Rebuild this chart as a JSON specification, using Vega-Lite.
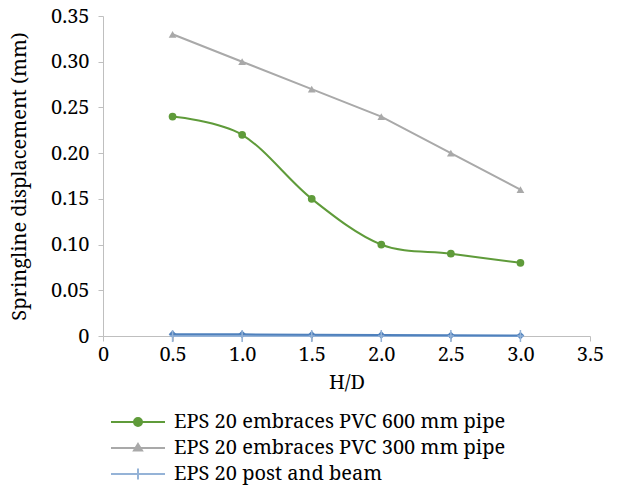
{
  "$schema": "https://vega.github.io/schema/vega-lite/v6.json",
  "autosize": "none",
  "width": 487,
  "height": 320,
  "padding": {"left": 103, "top": 16, "right": 43, "bottom": 152},
  "background": "white",
  "config": {
    "font": "Noto Serif, FreeSerif, Nimbus Roman, Times, Georgia, Liberation Sans",
    "view": {"stroke": null},
    "axis": {
      "domainColor": "#bfbfbf",
      "tickColor": "#bfbfbf",
      "grid": false,
      "labelFont": "Noto Serif, FreeSerif, Nimbus Roman, Times, Georgia, Liberation Sans",
      "titleFont": "Noto Serif, FreeSerif, Nimbus Roman, Times, Georgia, Liberation Sans",
      "labelFontSize": 20,
      "titleFontSize": 20,
      "labelColor": "#000000",
      "titleColor": "#000000",
      "titleFontWeight": "normal",
      "tickSize": 5
    }
  },
  "data": {
    "values": [
      {"hd": 0.5, "disp": 0.24, "series": "EPS 20 embraces PVC 600 mm pipe"},
      {"hd": 1.0, "disp": 0.22, "series": "EPS 20 embraces PVC 600 mm pipe"},
      {"hd": 1.5, "disp": 0.15, "series": "EPS 20 embraces PVC 600 mm pipe"},
      {"hd": 2.0, "disp": 0.10, "series": "EPS 20 embraces PVC 600 mm pipe"},
      {"hd": 2.5, "disp": 0.09, "series": "EPS 20 embraces PVC 600 mm pipe"},
      {"hd": 3.0, "disp": 0.08, "series": "EPS 20 embraces PVC 600 mm pipe"},
      {"hd": 0.5, "disp": 0.33, "series": "EPS 20 embraces PVC 300 mm pipe"},
      {"hd": 1.0, "disp": 0.30, "series": "EPS 20 embraces PVC 300 mm pipe"},
      {"hd": 1.5, "disp": 0.27, "series": "EPS 20 embraces PVC 300 mm pipe"},
      {"hd": 2.0, "disp": 0.24, "series": "EPS 20 embraces PVC 300 mm pipe"},
      {"hd": 2.5, "disp": 0.20, "series": "EPS 20 embraces PVC 300 mm pipe"},
      {"hd": 3.0, "disp": 0.16, "series": "EPS 20 embraces PVC 300 mm pipe"},
      {"hd": 0.5, "disp": 0.0, "series": "EPS 20 post and beam"},
      {"hd": 1.0, "disp": 0.0, "series": "EPS 20 post and beam"},
      {"hd": 1.5, "disp": 0.0, "series": "EPS 20 post and beam"},
      {"hd": 2.0, "disp": 0.0, "series": "EPS 20 post and beam"},
      {"hd": 2.5, "disp": 0.0, "series": "EPS 20 post and beam"},
      {"hd": 3.0, "disp": 0.0, "series": "EPS 20 post and beam"},
      {"hd": 0.5, "disp": 0.002, "series": "EPS 20 other"},
      {"hd": 1.0, "disp": 0.0018, "series": "EPS 20 other"},
      {"hd": 1.5, "disp": 0.0015, "series": "EPS 20 other"},
      {"hd": 2.0, "disp": 0.0012, "series": "EPS 20 other"},
      {"hd": 2.5, "disp": 0.0008, "series": "EPS 20 other"},
      {"hd": 3.0, "disp": 0.0005, "series": "EPS 20 other"}
    ]
  },
  "encoding": {
    "x": {
      "field": "hd", "type": "quantitative",
      "scale": {"domain": [0, 3.5], "nice": false, "zero": true},
      "axis": {
        "title": "H/D",
        "values": [0, 0.5, 1, 1.5, 2, 2.5, 3, 3.5],
        "labelExpr": "datum.value == 0 ? '0' : format(datum.value, '.1f')",
        "labelPadding": 3,
        "titlePadding": 8,
        "labelFlush": false
      }
    },
    "y": {
      "field": "disp", "type": "quantitative",
      "scale": {"domain": [0, 0.35], "nice": false},
      "axis": {
        "title": "Springline displacement (mm)",
        "values": [0, 0.05, 0.1, 0.15, 0.2, 0.25, 0.3, 0.35],
        "labelExpr": "datum.value == 0 ? '0' : format(datum.value, '.2f')",
        "labelPadding": 9,
        "titlePadding": 21
      }
    },
    "color": {
      "field": "series", "type": "nominal",
      "scale": {
        "domain": ["EPS 20 embraces PVC 600 mm pipe", "EPS 20 embraces PVC 300 mm pipe", "EPS 20 post and beam", "EPS 20 other"],
        "range": ["#5f9b3a", "#a9a9a9", "#95b3d7", "#4f81bd"]
      },
      "legend": {
        "title": null,
        "orient": "none",
        "legendX": 7,
        "legendY": 395,
        "values": ["EPS 20 embraces PVC 600 mm pipe", "EPS 20 embraces PVC 300 mm pipe", "EPS 20 post and beam"],
        "labelFont": "Noto Serif, FreeSerif, Nimbus Roman, Times, Georgia, Liberation Sans",
        "labelFontSize": 20,
        "labelColor": "#000000",
        "symbolSize": 400,
        "labelOffset": 42,
        "rowPadding": 5,
        "labelLimit": 500,
        "encode": {
          "symbols": {
            "update": {
              "shape": {"signal": "datum.value === 'EPS 20 embraces PVC 600 mm pipe' ? 'M-1,0L4.4,0M2.1,0A0.4,0.4,0,1,1,1.3,0A0.4,0.4,0,1,1,2.1,0Z' : datum.value === 'EPS 20 embraces PVC 300 mm pipe' ? 'M-1,0L4.4,0M1.7,-0.4L2.1,0.25L1.3,0.25Z' : 'M-1,0L4.4,0M1.7,-0.55L1.7,0.55'"},
              "fill": {"signal": "scale('color', datum.value)"},
              "stroke": {"signal": "scale('color', datum.value)"},
              "strokeWidth": {"value": 2},
              "opacity": {"value": 1},
              "fillOpacity": {"value": 1}
            }
          }
        }
      }
    }
  },
  "layer": [
    {
      "transform": [{"filter": "datum.series !== 'EPS 20 embraces PVC 600 mm pipe'"}],
      "mark": {"type": "line", "strokeWidth": 2}
    },
    {
      "transform": [{"filter": "datum.series === 'EPS 20 embraces PVC 600 mm pipe'"}],
      "mark": {"type": "line", "strokeWidth": 2, "interpolate": "cardinal"}
    },
    {
      "transform": [{"filter": "datum.series !== 'EPS 20 post and beam'"}],
      "mark": {"type": "point", "filled": true, "opacity": 1, "size": 60},
      "encoding": {
        "shape": {
          "field": "series", "type": "nominal",
          "scale": {
            "domain": ["EPS 20 embraces PVC 600 mm pipe", "EPS 20 embraces PVC 300 mm pipe", "EPS 20 other"],
            "range": ["circle", "triangle-up", "diamond"]
          },
          "legend": null
        }
      }
    },
    {
      "transform": [{"filter": "datum.series === 'EPS 20 post and beam'"}],
      "mark": {"type": "point", "filled": false, "shape": "M0,-1L0,1M-0.5,0L0.5,0", "size": 150, "strokeWidth": 1.5, "opacity": 1}
    }
  ]
}
